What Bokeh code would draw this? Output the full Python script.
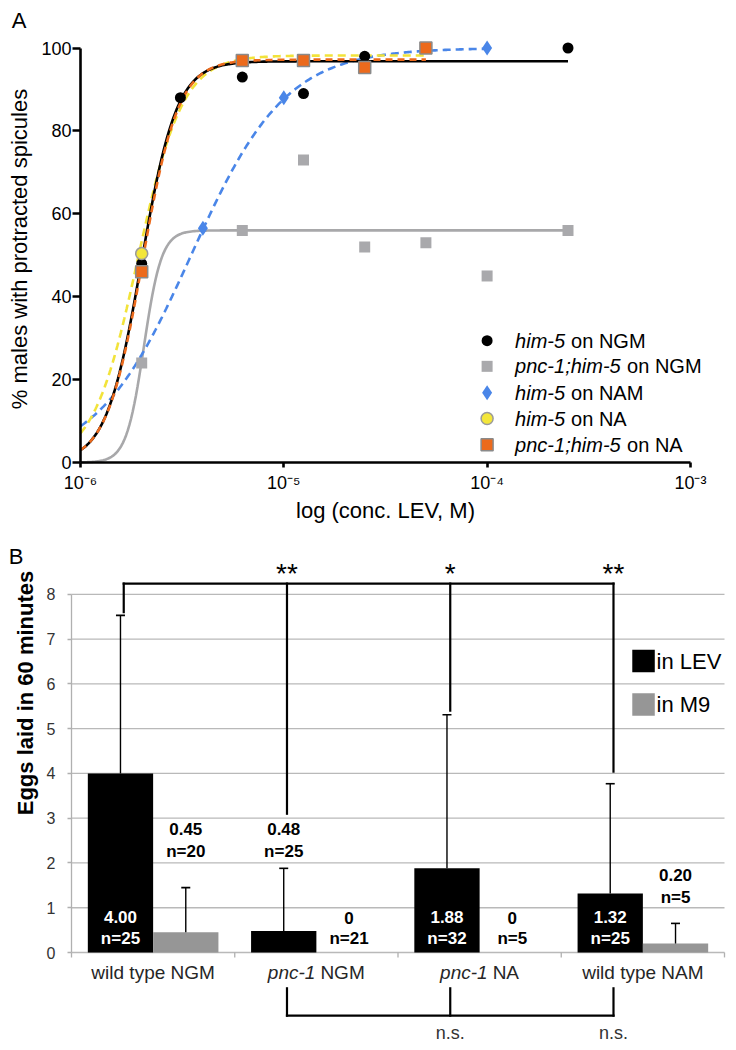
import numpy as np
from bokeh.plotting import figure
from bokeh.layouts import column
from bokeh.models import Range1d, FixedTicker, CustomJSTickFormatter, ColumnDataSource
from bokeh.core.properties import value
from bokeh.embed import file_html
from bokeh.resources import INLINE

FONT = "Liberation Sans"

# ---------------- Panel A data ----------------
conc_him5_ngm = [2e-6, 3.1e-6, 6.25e-6, 1.25e-5, 2.5e-5, 2.5e-4]
pct_him5_ngm = [48, 88, 93, 89, 98, 100]
conc_pnc1_ngm = [2e-6, 6.25e-6, 1.25e-5, 2.5e-5, 5e-5, 1e-4, 2.5e-4]
pct_pnc1_ngm = [24, 56, 73, 52, 53, 45, 56]
conc_him5_nam = [4e-6, 1e-5, 1e-4]
pct_him5_nam = [56.5, 88, 100]
conc_him5_na = [2e-6]
pct_him5_na = [50.4]
conc_pnc1_na = [2e-6, 6.25e-6, 1.25e-5, 2.5e-5, 5e-5]
pct_pnc1_na = [46, 97, 97, 95.3, 100]

# sigmoidal dose-response fits (top, log EC50, Hill slope, last concentration)
series_italic = ["him-5", "pnc-1;him-5", "him-5", "him-5", "pnc-1;him-5"]
series_plain = ["on NGM", "on NGM", "on NAM", "on NA", "on NA"]
fit_top = [96.8, 56.0, 100.0, 98.2, 97.2]
fit_log_ec50 = [-5.70, -5.688, -5.456, -5.718, -5.695]
fit_hill = [5.0, 10.0, 1.87, 3.94, 4.9]
fit_xmax = [2.5e-4, 2.5e-4, 1e-4, 5e-5, 5e-5]

x_ticks_a = [1e-6, 1e-5, 1e-4, 1e-3]
y_ticks_a = [0, 20, 40, 60, 80, 100]

# ---------------- Panel B data ----------------
cats = ["wild type NGM", "pnc-1 NGM", "pnc-1 NA", "wild type NAM"]
cat_italic = ["", "pnc-1", "pnc-1", ""]
cat_plain = ["wild type NGM", "NGM", "NA", "wild type NAM"]
lev_mean = [4.00, 0.48, 1.88, 1.32]
lev_sd = [3.53, 1.40, 3.43, 2.45]
lev_n = [25, 25, 32, 25]
lev_text = ["4.00", "0.48", "1.88", "1.32"]
m9_mean = [0.45, 0.0, 0.0, 0.20]
m9_sd = [1.00, 0.0, 0.0, 0.45]
m9_n = [20, 21, 5, 5]
m9_text = ["0.45", "0", "0", "0.20"]
y_ticks_b = [0, 1, 2, 3, 4, 5, 6, 7, 8]
legend_b = ["in LEV", "in M9"]

# ================= Panel A =================
# frame covers the whole canvas; axes are pinned at x=1e-6 and y=0
pxdec = 203.3     # pixels per decade
pxpct = 4.145     # pixels per percent
x_lo_a = 10 ** (-6 - 80 / pxdec)
x_hi_a = 10 ** (-6 + 656 / pxdec)
pA = figure(width=736, height=538, x_axis_type="log",
            x_range=Range1d(x_lo_a, x_hi_a), y_range=Range1d(-76 / pxpct, 462 / pxpct),
            output_backend="svg", toolbar_location=None,
            min_border_left=0, min_border_right=0, min_border_top=0, min_border_bottom=0)
pA.outline_line_color = None
pA.grid.visible = False

line_styles = [
    dict(color="black", dash="solid", width=2.6),
    dict(color="#a8a8aa", dash="solid", width=2.6),
    dict(color="#4a86e8", dash="8 5", width=2.6),
    dict(color="#f2e33a", dash="8 5", width=2.6),
    dict(color="#ec6a1c", dash="7 5", width=2.6),
]
draw_order = [1, 2, 3, 0, 4]
for i in draw_order:
    xs = np.logspace(-6, np.log10(fit_xmax[i]), 300)
    ys = fit_top[i] / (1.0 + 10 ** ((fit_log_ec50[i] - np.log10(xs)) * fit_hill[i]))
    st = line_styles[i]
    pA.line(xs, ys, line_color=st["color"], line_width=st["width"], line_dash=st["dash"])

pA.scatter(conc_pnc1_ngm, pct_pnc1_ngm, marker="square", size=11, fill_color="#a9a9ac", line_color=None)
pA.scatter(conc_him5_nam, pct_him5_nam, marker="diamond", size=15, fill_color="#4a86e8", line_color=None)
pA.scatter(conc_him5_ngm, pct_him5_ngm, marker="circle", size=11, fill_color="black", line_color=None)
pA.scatter(conc_him5_na, pct_him5_na, marker="circle", size=12, fill_color="#f3e63a", line_color="#9a9a9a", line_width=1.5)
pA.scatter(conc_pnc1_na, pct_pnc1_na, marker="square", size=12, fill_color="#ec6a1c", line_color="#8a8a8a", line_width=1.5)

# legend (manual, to allow italic gene names)
leg_y = [29.4, 23.2, 16.8, 10.6, 4.3]
leg_x = [1e-4] * 5
pA.scatter(leg_x[0:1], leg_y[0:1], marker="circle", size=11, fill_color="black", line_color=None)
pA.scatter(leg_x[1:2], leg_y[1:2], marker="square", size=11, fill_color="#a9a9ac", line_color=None)
pA.scatter(leg_x[2:3], leg_y[2:3], marker="diamond", size=15, fill_color="#4a86e8", line_color=None)
pA.scatter(leg_x[3:4], leg_y[3:4], marker="circle", size=12, fill_color="#f3e63a", line_color="#9a9a9a", line_width=1.5)
pA.scatter(leg_x[4:5], leg_y[4:5], marker="square", size=12, fill_color="#ec6a1c", line_color="#8a8a8a", line_width=1.5)
plain_offsets = [84, 140, 84, 84, 140]
pA.text(x=leg_x, y=leg_y, text=series_italic, x_offset=28, text_font=value(FONT),
        text_font_style="italic", text_font_size="20px", text_baseline="middle", text_align="left",
        text_color="black")
pA.text(x=leg_x, y=leg_y, text=series_plain, x_offset=plain_offsets, text_font=value(FONT),
        text_font_size="20px", text_baseline="middle", text_align="left", text_color="black")

for ax in [pA.xaxis[0], pA.yaxis[0]]:
    ax.axis_line_width = 2.6
    ax.axis_line_color = "black"
    ax.major_tick_line_width = 2.6
    ax.major_tick_line_color = "black"
    ax.major_tick_in = 0
    ax.minor_tick_line_color = None
    ax.major_label_text_font = FONT
    ax.major_label_text_font_size = "18px"
    ax.major_label_text_color = "black"
    ax.axis_label_text_font = FONT
    ax.axis_label_text_font_size = "22px"
    ax.axis_label_text_font_style = "normal"
    ax.axis_label_text_color = "black"

pA.yaxis.fixed_location = 1e-6
pA.yaxis.ticker = FixedTicker(ticks=y_ticks_a)
pA.yaxis.bounds = (0, 100)
pA.yaxis.major_tick_out = 8
pA.yaxis.major_label_standoff = 1

pA.xaxis.fixed_location = 0
pA.xaxis.ticker = FixedTicker(ticks=x_ticks_a)
pA.xaxis.bounds = (1e-6, 1e-3)
pA.xaxis.major_tick_out = 5
pA.xaxis.major_label_standoff = 5
pA.xaxis.axis_label = "log (conc. LEV, M)"
pA.xaxis.axis_label_standoff = 2
pA.xaxis.formatter = CustomJSTickFormatter(code="""
const e = Math.round(Math.log10(tick));
const sup = {"-6": "\u207b\u2076", "-5": "\u207b\u2075", "-4": "\u207b\u2074", "-3": "\u207b\u00b3"};
return "10" + sup[String(e)];
""")

# y-axis title and panel letter
pA.text(x=[10 ** (-6 - 61 / pxdec)], y=[51.5], text=["% males with protracted spicules"],
        angle=np.pi / 2, text_font=value(FONT), text_font_size="22px", text_align="center",
        text_baseline="middle", text_color="black")
pA.text(x=[10 ** (-6 - 61.5 / pxdec)], y=[106.75], text=["A"], text_font=value(FONT),
        text_font_size="22px", text_align="center", text_baseline="middle", text_color="black")

# ================= Panel B =================
n_cat = len(cats)
xpos = [i + 0.5 for i in range(n_cat)]          # category centres on the numeric scale
bounds_x = [float(i) for i in range(n_cat + 1)]  # category boundaries
pxcat = 163.25    # pixels per category
pxegg = 44.77     # pixels per egg

pB = figure(width=736, height=512, x_range=Range1d(-71 / pxcat, 665 / pxcat),
            y_range=Range1d(-98 / pxegg, 414 / pxegg),
            x_axis_location=None, output_backend="svg", toolbar_location=None,
            min_border_left=0, min_border_right=0, min_border_top=0, min_border_bottom=0)
pB.outline_line_color = None
pB.grid.visible = False

# horizontal grid lines spanning the category area
pB.segment(x0=0, y0=y_ticks_b, x1=n_cat, y1=y_ticks_b, line_color="#b9b9b9", line_width=1.3)

yb = pB.yaxis[0]
yb.fixed_location = 0
yb.ticker = FixedTicker(ticks=y_ticks_b)
yb.bounds = (0, 8)
yb.axis_line_color = "#b0b0b0"
yb.axis_line_width = 1.3
yb.major_tick_line_color = "#b0b0b0"
yb.major_tick_line_width = 1.3
yb.major_tick_in = 0
yb.major_tick_out = 4
yb.minor_tick_line_color = None
yb.major_label_text_font_size = "0px"
yb.formatter = CustomJSTickFormatter(code="return '';")

# y tick labels and title of panel B
pB.text(x=-16 / pxcat, y=y_ticks_b, text=[str(t) for t in y_ticks_b], text_font=value(FONT),
        text_font_size="16px", text_align="right", text_baseline="middle", text_color="#333333")
pB.text(x=[-46 / pxcat], y=[5.796], text=["Eggs laid in 60 minutes"], angle=np.pi / 2,
        text_font=value(FONT), text_font_size="22px", text_font_style="bold",
        text_align="center", text_baseline="middle", text_color="black")

lev_x = [x - 0.2 for x in xpos]
m9_x = [x + 0.2 for x in xpos]
lev_top = [m + s for m, s in zip(lev_mean, lev_sd)]
m9_top = [m + s for m, s in zip(m9_mean, m9_sd)]

pB.vbar(x=lev_x, top=lev_mean, width=0.4, fill_color="black", line_color=None)
pB.vbar(x=m9_x, top=m9_mean, width=0.4, fill_color="#969696", line_color=None)

# x-axis boundary ticks
pB.segment(x0=bounds_x, y0=0, x1=bounds_x, y1=-0.11, line_color="#b0b0b0", line_width=1.3)

# error bars (upper only)
pB.segment(x0=lev_x, y0=lev_mean, x1=lev_x, y1=lev_top, line_color="black", line_width=1.4)
pB.scatter(x=lev_x, y=lev_top, marker="dash", size=9, line_color="black", line_width=1.6)
keep = [i for i, s in enumerate(m9_sd) if s > 0]
pB.segment(x0=[m9_x[i] for i in keep], y0=[m9_mean[i] for i in keep],
           x1=[m9_x[i] for i in keep], y1=[m9_top[i] for i in keep], line_color="black", line_width=1.4)
pB.scatter(x=[m9_x[i] for i in keep], y=[m9_top[i] for i in keep], marker="dash", size=9,
           line_color="black", line_width=1.6)

# value / n labels
lev_val_y = [0.80, 2.75, 0.80, 0.80]
lev_n_y = [0.31, 2.25, 0.31, 0.31]
lev_col = ["white", "black", "white", "white"]
m9_val_y = [2.75, 0.78, 0.78, 1.72]
m9_n_y = [2.25, 0.31, 0.31, 1.23]
lev_ntext = ["n=%d" % n for n in lev_n]
m9_ntext = ["n=%d" % n for n in m9_n]
for xx, yy, tt, cc in [(lev_x, lev_val_y, lev_text, lev_col), (lev_x, lev_n_y, lev_ntext, lev_col),
                       (m9_x, m9_val_y, m9_text, ["black"] * 4), (m9_x, m9_n_y, m9_ntext, ["black"] * 4)]:
    pB.text(x=xx, y=yy, text=tt, text_color=cc, text_font=value(FONT), text_font_style="bold",
            text_font_size="17px", text_align="center", text_baseline="middle")

# category labels (italic strain names)
cl = ColumnDataSource(dict(x=xpos, it=cat_italic, pl=cat_plain,
                           ito=[0, -1, 8, 0], plo=[0, 4, 13, 0],
                           pla=["center", "left", "left", "center"]))
pB.text(x="x", y=-0.45, text="it", x_offset="ito", source=cl,
        text_font=value(FONT), text_font_style="italic", text_font_size="19px",
        text_align="right", text_baseline="middle", text_color="#262626")
pB.text(x="x", y=-0.45, text="pl", x_offset="plo", text_align="pla", source=cl,
        text_font=value(FONT), text_font_size="19px", text_baseline="middle", text_color="#262626")

# significance brackets
br_x = [x - 0.18 for x in xpos]
br_drop_end = [7.60, 3.10, 5.40, 4.04]
br_y = 8.24
pB.segment(x0=br_x, y0=br_y, x1=br_x, y1=br_drop_end, line_color="black", line_width=2.2, line_cap="square")
pB.segment(x0=br_x[0], y0=br_y, x1=br_x[-1], y1=br_y, line_color="black", line_width=2.2, line_cap="square")
pB.text(x=br_x[1:], y=8.46, text=["**", "*", "**"], text_font=value(FONT), text_font_size="28px",
        text_align="center", text_baseline="middle", text_color="black")

ns_y = -1.41
ns_top = -0.80
pB.segment(x0=br_x[1:], y0=ns_y, x1=br_x[1:], y1=ns_top, line_color="black", line_width=2.2, line_cap="square")
pB.segment(x0=br_x[1], y0=ns_y, x1=br_x[-1], y1=ns_y, line_color="black", line_width=2.2, line_cap="square")
pB.text(x=br_x[2:], y=-1.79, text=["n.s.", "n.s."], text_font=value(FONT), text_font_size="18px",
        text_align="center", text_baseline="middle", text_color="#333333")

# legend (manual squares + labels)
leg_bx = [3.504, 3.504]
leg_by = [6.51, 5.54]
pB.scatter(x=leg_bx, y=leg_by, marker="square", size=22.5, fill_color=["black", "#969696"], line_color=None)
pB.text(x=leg_bx, y=leg_by, text=legend_b, x_offset=13, text_font=value(FONT), text_font_size="22px",
        text_align="left", text_baseline="middle", text_color="black")

pB.text(x=[-55.5 / pxcat], y=[8.845], text=["B"], text_font=value(FONT), text_font_size="22px",
        text_align="center", text_baseline="middle", text_color="black")

layout = column(pA, pB)
open("out.html", "w", encoding="utf-8").write(file_html(layout, INLINE))
